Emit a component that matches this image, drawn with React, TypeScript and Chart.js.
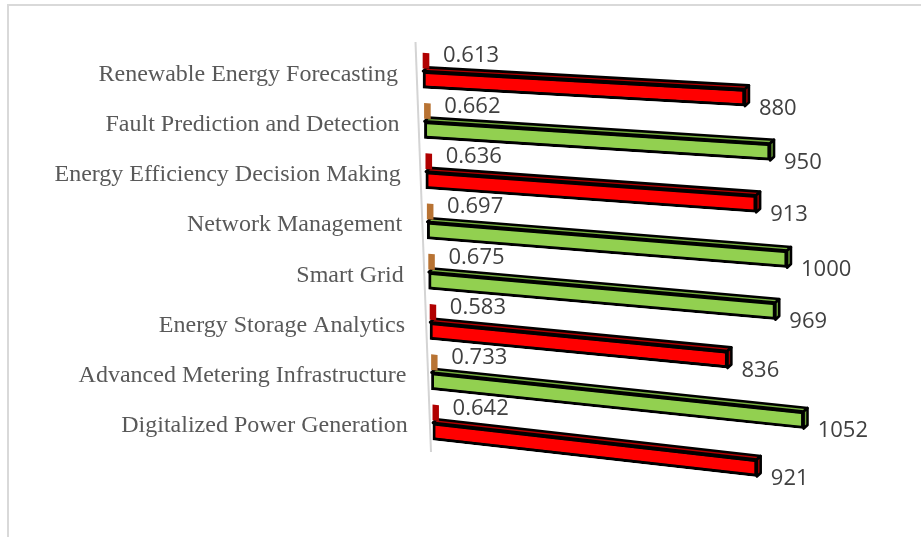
import { useEffect, useRef } from 'react';
import { Chart, registerables } from 'chart.js';

Chart.register(...registerables);

// ---- data ----
const categories = [
  'Renewable Energy Forecasting',
  'Fault Prediction and Detection',
  'Energy Efficiency Decision Making',
  'Network Management',
  'Smart Grid',
  'Energy Storage Analytics',
  'Advanced Metering Infrastructure',
  'Digitalized Power Generation',
];
const scoreValues = [0.613, 0.662, 0.636, 0.697, 0.675, 0.583, 0.733, 0.642];
const countValues = [880, 950, 913, 1000, 969, 836, 1052, 921];
const categoryTone = ['red', 'green', 'red', 'green', 'green', 'red', 'green', 'red'];

// ---- styles ----
const TONES: Record<string, { front: string; top: string; side: string; stub: string }> = {
  red: { front: '#FF0000', top: '#B00000', side: '#A00000', stub: '#B00000' },
  green: { front: '#92D050', top: '#78B040', side: '#6A9E38', stub: '#B87333' },
};
const LABEL_FONT = '24px "Liberation Serif", "Times New Roman", serif';
const VALUE_FONT = '22px "Open Sans", "DejaVu Sans", sans-serif';

// perspective parameters (pixel based)
const SLOPE_TOP = 0.056;
const SLOPE_GROWTH = 0.00015;
const SHRINK = 0.000109;
const DRIFT = 0.028;
const DEPTH_X = 4;
const DEPTH_Y = 4;
const STUB_SHIFT = -3;
const OUTLINE = 2.6;

function frame(chart: any, i: number) {
  const yScale = chart.scales.y;
  const x0 = chart.chartArea.left;
  const Y = yScale.getPixelForValue(i) - yScale.getPixelForValue(0);
  const k = SLOPE_TOP + SLOPE_GROWTH * Y;
  const a = 1 - SHRINK * Y;
  const dx = DRIFT * Y;
  return { a, k, e: x0 * (1 - a) + dx, f: -k * x0, dx };
}

function apply(t: any, x: number, y: number, ty = 0) {
  return [t.a * x + t.e, t.k * x + y + t.f + ty];
}

const perspectivePlugin = {
  id: 'perspective',
  beforeDatasetsDraw(chart: any) {
    const { ctx, chartArea } = chart;
    ctx.save();
    ctx.strokeStyle = '#d4d4d4';
    ctx.lineWidth = 2;
    ctx.beginPath();
    ctx.moveTo(chartArea.left - 7.5, chartArea.top - 4);
    ctx.lineTo(chartArea.left + 8, chartArea.bottom + 4);
    ctx.stroke();
    ctx.restore();
  },
  beforeDatasetDraw(chart: any, args: any) {
    const { ctx, chartArea } = chart;
    const meta = args.meta;
    const dsIndex = args.index;
    meta.data.forEach((el: any, i: number) => {
      const t = frame(chart, i);
      const tone = TONES[categoryTone[i]];
      ctx.save();
      ctx.transform(t.a, t.k, 0, 1, t.e, t.f + (dsIndex === 0 ? STUB_SHIFT : 0));
      if (dsIndex === 1) {
        const top = el.y - el.height / 2;
        const bot = el.y + el.height / 2;
        ctx.lineWidth = OUTLINE;
        ctx.lineJoin = 'round';
        ctx.strokeStyle = '#000000';
        // top face
        ctx.beginPath();
        ctx.moveTo(el.base, top);
        ctx.lineTo(el.base + DEPTH_X, top - DEPTH_Y);
        ctx.lineTo(el.x + DEPTH_X, top - DEPTH_Y);
        ctx.lineTo(el.x, top);
        ctx.closePath();
        ctx.fillStyle = tone.top;
        ctx.fill();
        ctx.stroke();
        // end face
        ctx.beginPath();
        ctx.moveTo(el.x, top);
        ctx.lineTo(el.x + DEPTH_X, top - DEPTH_Y);
        ctx.lineTo(el.x + DEPTH_X, bot - DEPTH_Y);
        ctx.lineTo(el.x, bot);
        ctx.closePath();
        ctx.fillStyle = tone.side;
        ctx.fill();
        ctx.stroke();
      }
      el.draw(ctx, chartArea);
      ctx.restore();
    });
    return false;
  },
  afterDatasetsDraw(chart: any) {
    const { ctx } = chart;
    const yScale = chart.scales.y;
    const stubMeta = chart.getDatasetMeta(0);
    const barMeta = chart.getDatasetMeta(1);
    ctx.save();
    // category labels
    ctx.font = LABEL_FONT;
    ctx.fillStyle = '#595959';
    ctx.textAlign = 'right';
    ctx.textBaseline = 'alphabetic';
    categories.forEach((label, i) => {
      const t = frame(chart, i);
      const c = yScale.getPixelForValue(i);
      ctx.fillText(label, chart.chartArea.left + t.dx - 25, c + 9.5);
    });
    // value labels
    ctx.font = VALUE_FONT;
    ctx.fillStyle = '#404040';
    ctx.textAlign = 'left';
    stubMeta.data.forEach((el: any, i: number) => {
      const t = frame(chart, i);
      const [px, py] = apply(t, el.x, el.y - el.height / 2, STUB_SHIFT);
      ctx.fillText(scoreValues[i].toFixed(3), px + 14, py + 9);
    });
    barMeta.data.forEach((el: any, i: number) => {
      const t = frame(chart, i);
      const [px, py] = apply(t, el.x, el.y);
      ctx.fillText(String(countValues[i]), px + 14, py + 17);
    });
    ctx.restore();
  },
};

export default function App() {
  const canvasRef = useRef<HTMLCanvasElement>(null);

  useEffect(() => {
    if (!canvasRef.current) return;
    const chart = new Chart(canvasRef.current, {
      type: 'bar',
      data: {
        labels: categories,
        datasets: [
          {
            label: 'Score',
            data: scoreValues,
            backgroundColor: categoryTone.map((t) => TONES[t].stub),
            borderWidth: 0,
            barThickness: 15,
            minBarLength: 6,
          },
          {
            label: 'Count',
            data: countValues,
            backgroundColor: categoryTone.map((t) => TONES[t].front),
            borderColor: '#000000',
            borderWidth: 3,
            borderSkipped: false,
            barThickness: 17,
          },
        ],
      },
      options: {
        indexAxis: 'y',
        animation: false,
        responsive: false,
        events: [],
        layout: { padding: { left: 423, top: 46, right: 59, bottom: 89 } },
        plugins: { legend: { display: false }, tooltip: { enabled: false } },
        scales: {
          x: { display: false, min: 0, max: 1200 },
          y: { display: false },
        },
      },
      plugins: [perspectivePlugin],
    });
    return () => chart.destroy();
  }, []);

  return (
    <div>
      <canvas
        ref={canvasRef}
        width={921}
        height={537}
        style={{ position: 'fixed', left: 0, top: 0, width: 921, height: 537 }}
      />
      <div
        style={{
          position: 'fixed',
          left: 7,
          top: 4,
          width: 914,
          height: 533,
          borderLeft: '2px solid #d9d9d9',
          borderTop: '2px solid #d9d9d9',
          boxSizing: 'border-box',
          pointerEvents: 'none',
        }}
      />
    </div>
  );
}
